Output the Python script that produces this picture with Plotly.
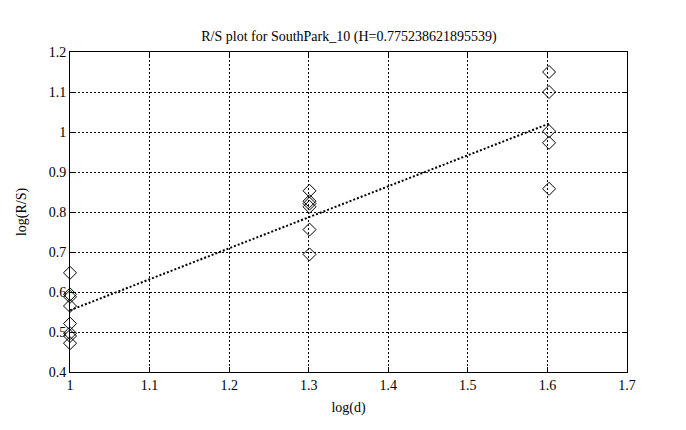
import plotly.graph_objects as go

# Data
x_d10 = 1.0
y_d10 = [0.648, 0.594, 0.588, 0.565, 0.521, 0.497, 0.490, 0.472]
x_d20 = 1.30103
y_d20 = [0.853, 0.827, 0.821, 0.813, 0.756, 0.694]
x_d40 = 1.60206
y_d40 = [1.150, 1.100, 1.002, 0.973, 0.858]

H = 0.775238621895539
intercept = -0.221
fit_x = [1.0, 1.60206]

xs = [x_d10] * len(y_d10) + [x_d20] * len(y_d20) + [x_d40] * len(y_d40)
ys = y_d10 + y_d20 + y_d40
fit_y = [intercept + H * v for v in fit_x]

font = dict(family="Liberation Serif, Times New Roman, serif", size=14, color="black")

fig = go.Figure()
fig.add_trace(go.Scatter(
    x=xs, y=ys, mode="markers", cliponaxis=False,
    marker=dict(symbol="diamond-open", size=10, color="black", line=dict(width=1, color="black")),
    showlegend=False,
))
fig.add_trace(go.Scatter(
    x=fit_x, y=fit_y, mode="lines",
    line=dict(color="black", width=2, dash="2px,2px"),
    showlegend=False,
))

axis_common = dict(
    showline=True, linecolor="black", linewidth=1, mirror="ticks",
    ticks="inside", ticklen=5, tickcolor="black",
    showgrid=True, gridcolor="black", gridwidth=1, griddash="2px,2px",
    zeroline=False, tickfont=font,
)

fig.update_layout(
    width=686, height=430,
    margin=dict(l=62, r=67, t=44, b=66),
    paper_bgcolor="white", plot_bgcolor="white",
    font=font,
    title=dict(text="R/S plot for SouthPark_10 (H=0.775238621895539)",
               x=0.497, xanchor="center", y=0.935, yanchor="middle",
               font=dict(family=font["family"], size=14, color="black")),
    xaxis=dict(range=[1, 1.7], dtick=0.1, tick0=1,
               title=dict(text="log(d)", standoff=10, font=font), **axis_common),
    yaxis=dict(range=[0.4, 1.2], dtick=0.1, tick0=0.4,
               title=dict(text="log(R/S)", standoff=18, font=font), **axis_common),
)

fig.write_html("out.html")
